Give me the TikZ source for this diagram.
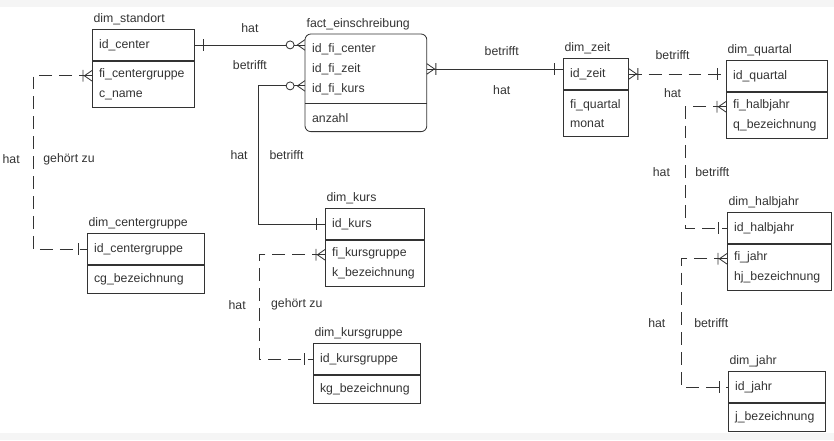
\documentclass[tikz,border=0pt]{standalone}
\usepackage{fontspec}
\setmainfont{Liberation Sans}
\usetikzlibrary{positioning}
\usetikzlibrary{decorations.markings}

\tikzset{
  keybox/.style={draw, anchor=north west, align=left, inner xsep=0.2cm,
    text width=#1, minimum height=0.93cm},
  attrbox/.style={draw, align=left, inner xsep=0.2cm,
    text width=#1, minimum height=1.4cm},
  attrone/.style={attrbox=#1, minimum height=0.84cm},
  ttl/.style={anchor=south west, inner sep=1pt, yshift=2pt},
  lbl/.style={inner sep=1pt},
  dashline/.style={dash pattern=on 11pt off 6pt},
  rel/.style={draw,
    postaction={decorate, decoration={markings,
      mark=at position 1 with {\draw[solid] (-7.7pt,-5pt) -- (-7.7pt,5pt);}}}},
  crowbar/.style={postaction={decorate, decoration={markings,
      mark=at position 0 with {\draw[solid] (0,4.5pt) -- (6.5pt,0) -- (0,-4.5pt)
        (7.7pt,-5pt) -- (7.7pt,5pt);}}}},
  crowring/.style={postaction={decorate, decoration={markings,
      mark=at position 0 with {\draw[solid] (0,4.5pt) -- (6.5pt,0) -- (0,-4.5pt);
        \draw[solid, fill=white] (12.7pt,0) circle (3.4pt);}}}}
}

\begin{document}
\begin{tikzpicture}[x=0.03cm, y=-0.03cm, line width=0.7pt, color=black!80,
    font=\fontsize{10.5}{17}\selectfont]
  \useasboundingbox (0,0) rectangle (834,440);
  \fill[black!4] (0,0) rectangle (834,7);
  \fill[black!4] (0,433) rectangle (834,440);
  %% Tabellen
  \node[keybox=2.66cm, label={[ttl]north west:dim\_standort}] at (92,29) (std) {id\_center};
  \node[attrbox=2.66cm, below=0pt of std] (stdA) {fi\_centergruppe\\c\_name};
  \node[keybox=3.23cm, draw=none, minimum height=2.07cm,
    label={[ttl]north west:fact\_einschreibung}] at (305,34) (fact) {id\_fi\_center\\id\_fi\_zeit\\id\_fi\_kurs};
  \node[attrone=3.23cm, draw=none, minimum height=0.81cm, below=0pt of fact] (factA) {anzahl};
  \draw[rounded corners=5pt] (fact.north west) rectangle (factA.south east);
  \draw (fact.south west) -- (fact.south east);
  \node[keybox=1.55cm, label={[ttl]north west:dim\_zeit}] at (563,58) (zeit) {id\_zeit};
  \node[attrbox=1.55cm, below=0pt of zeit] (zeitA) {fi\_quartal\\monat};
  \node[keybox=2.63cm, label={[ttl]north west:dim\_quartal}] at (726,60) (qrt) {id\_quartal};
  \node[attrbox=2.63cm, below=0pt of qrt] (qrtA) {fi\_halbjahr\\q\_bezeichnung};
  \node[keybox=3.11cm, label={[ttl]north west:dim\_centergruppe}] at (87,233) (cg) {id\_centergruppe};
  \node[attrone=3.11cm, below=0pt of cg] (cgA) {cg\_bezeichnung};
  \node[keybox=2.57cm, label={[ttl]north west:dim\_kurs}] at (325,208) (kurs) {id\_kurs};
  \node[attrbox=2.57cm, below=0pt of kurs] (kursA) {fi\_kursgruppe\\k\_bezeichnung};
  \node[keybox=2.81cm, label={[ttl]north west:dim\_kursgruppe}] at (313,343) (kg) {id\_kursgruppe};
  \node[attrone=2.81cm, below=0pt of kg] (kgA) {kg\_bezeichnung};
  \node[keybox=2.72cm, label={[ttl]north west:dim\_halbjahr}] at (727,212) (hj) {id\_halbjahr};
  \node[attrbox=2.72cm, below=0pt of hj] (hjA) {fi\_jahr\\hj\_bezeichnung};
  \node[keybox=2.51cm, label={[ttl]north west:dim\_jahr}] at (728,371) (jahr) {id\_jahr};
  \node[attrone=2.51cm, below=0pt of jahr] (jahrA) {j\_bezeichnung};
  %% Beziehungen
  \path[rel, crowring] (std.east -| fact.west) -- node[lbl, above=9pt] (t1a) {hat}
    node[lbl, below=12pt] (t1b) {betrifft} (std.east);
  \path[rel, crowring] ([yshift=-14.5pt]fact.west) -- ++(-47,0)
    |- node[lbl, pos=.25, left=7.5pt] (t2a) {hat} node[lbl, pos=.25, right=8.5pt] (t2b) {betrifft} (kurs.west);
  \path[rel, crowbar] (fact.east) -- node[lbl, pos=.55, above=10pt] (t3a) {betrifft}
    node[lbl, pos=.55, below=13pt] (t3b) {hat} (fact.east -| zeit.west);
  \path[rel, dashline, crowbar] (zeit.east) -- node[lbl, pos=.45, above=11pt] (t4a) {betrifft}
    node[lbl, pos=.45, below=11pt] (t4b) {hat} (zeit.east -| qrt.west);
  \path[rel, dashline, crowbar] ([yshift=7.5pt]qrtA.west) -- ++(-41,0)
    |- node[lbl, pos=.27, left=11.5pt] (t5a) {hat} node[lbl, pos=.27, right=7.5pt] (t5b) {betrifft} (hj.west);
  \path[rel, dashline, crowbar] ([yshift=7.5pt]hjA.west) -- ++(-46,0)
    |- node[lbl, pos=.25, left=12pt] (t6a) {hat} node[lbl, pos=.25, right=10pt] (t6b) {betrifft} (jahr.west);
  \path[rel, dashline, crowbar] ([yshift=7.5pt]stdA.west) -- ++(-59,0)
    |- node[lbl, pos=.24, left=10pt] (t7a) {hat} node[lbl, pos=.24, right=7.5pt] (t7b) {gehört zu} (cg.west);
  \path[rel, dashline, crowbar] ([yshift=7.5pt]kursA.west) -- ++(-66,0)
    |- node[lbl, pos=.24, left=10pt] (t8a) {hat} node[lbl, pos=.24, right=9pt] (t8b) {gehört zu} (kg.west);
\end{tikzpicture}
\end{document}
